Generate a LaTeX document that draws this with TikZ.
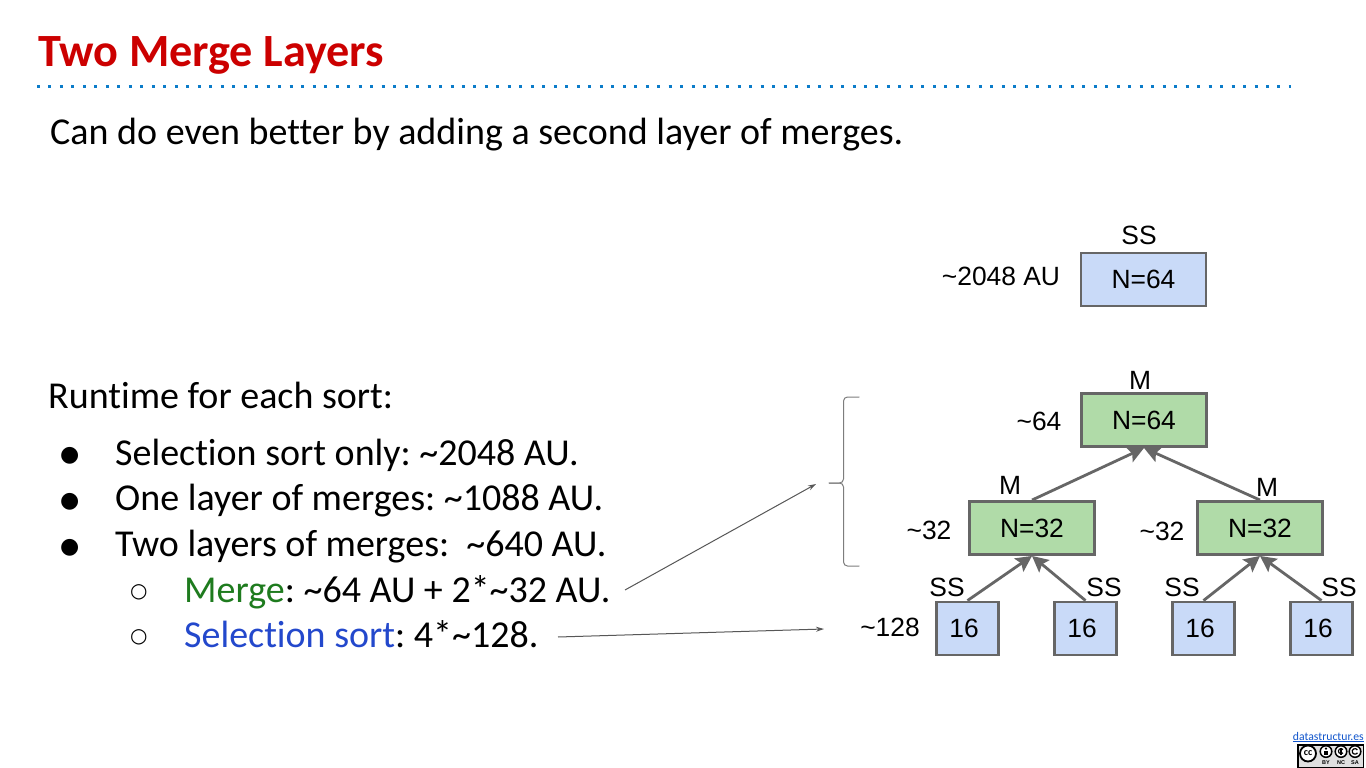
\documentclass[tikz,border=0pt]{standalone}
\usepackage{fontspec}
\setmainfont{Carlito}[Ligatures=NoCommon]
\newfontfamily\arial{Liberation Sans}
\newfontfamily\dejavu{DejaVu Sans}
\usetikzlibrary{arrows.meta}
\definecolor{titlered}{HTML}{CC0000}
\definecolor{dotblue}{HTML}{0B7CC9}
\definecolor{edgegrey}{HTML}{666666}
\definecolor{mergefill}{HTML}{B0DBA8}
\definecolor{ssfill}{HTML}{C9DAF8}
\definecolor{mergetext}{HTML}{1E7B1E}
\definecolor{sstext}{HTML}{2348CC}
\definecolor{linkblue}{HTML}{1155CC}
\tikzset{
  x=1pt,y=-1pt,
  body/.style={anchor=base west,inner sep=0pt,font=\frenchspacing\fontsize{38}{44}\selectfont,text=black},
  bigbox/.style={draw=edgegrey,line width=2.9pt,minimum width=125pt,minimum height=53pt,inner sep=0pt,font=\arial\fontsize{26.4}{30}\selectfont},
  smallbox/.style={draw=edgegrey,line width=2.9pt,fill=ssfill,minimum width=62pt,minimum height=53pt,inner sep=0pt,font=\arial\fontsize{26.4}{30}\selectfont},
  lab/.style={anchor=base,inner sep=0pt,font=\arial\fontsize{26.4}{30}\selectfont},
  treearrow/.style={draw=edgegrey,line width=2.8pt,-{Stealth[length=16pt,width=16pt,inset=3pt]}},
  thinarrow/.style={draw=edgegrey!85!black,line width=1pt,-{Stealth[length=8pt,width=5pt]}},
  badgetext/.style={anchor=center,inner sep=0pt,text=black,font=\arial\bfseries\fontsize{5.5}{6}\selectfont},
}
\begin{document}
\begin{tikzpicture}
\useasboundingbox (0,0) rectangle (1366,768);
\fill[white] (0,0) rectangle (1366,768);
% title
\node[anchor=base west,inner sep=0pt,text=titlered,font=\bfseries\fontsize{46.2}{54}\selectfont] (title) at (38,66.5) {Two Merge Layers};
\coordinate (ruleL) at (37,87);
\coordinate (ruleR) at (1291,87);
\draw[dotblue,line width=3pt,dash pattern=on 3pt off 8.486pt] (ruleL) -- (ruleR);
% text
\node[body] (intro) at (50,144) {Can do even better by adding a second layer of merges.};
\node[body] (runtime) at (48,408) {Runtime for each sort:};
\node[body,font=\dejavu\fontsize{22}{26}\selectfont] (b1) at (60,461) {●};
\node[body] (t1) at (115,465) {Selection sort only: \textasciitilde2048 AU.};
\node[body,font=\dejavu\fontsize{22}{26}\selectfont] (b2) at (60,507) {●};
\node[body] (t2) at (115,510) {One layer of merges: \textasciitilde1088 AU.};
\node[body,font=\dejavu\fontsize{22}{26}\selectfont] (b3) at (60,553) {●};
\node[body] (t3) at (115,556) {Two layers of merges:\ \ \textasciitilde640 AU.};
\node[body,font=\dejavu\fontsize{20}{24}\selectfont] (b4) at (130,597) {○};
\node[body] (t4) at (184,602) {\textcolor{mergetext}{Merge}: \textasciitilde64 AU + 2*\textasciitilde32 AU.};
\node[body,font=\dejavu\fontsize{20}{24}\selectfont] (b5) at (130,642) {○};
\node[body] (t5) at (184,647) {\textcolor{sstext}{Selection sort}: 4*\textasciitilde128.};
% top SS box
\node[bigbox,fill=ssfill] (top) at (1143.5,279.5) {N=64};
\node[lab] (topss) at (1139,244) {SS};
\node[lab] (topcost) at (1001,285) {\textasciitilde2048 AU};
% tree
\node[bigbox,fill=mergefill] (m64) at (1144,420) {N=64};
\node[bigbox,fill=mergefill] (m32l) at (1032,528) {N=32};
\node[bigbox,fill=mergefill] (m32r) at (1260,528) {N=32};
\node[smallbox] (s1) at (967.5,628.5) {16\kern7pt};
\node[smallbox] (s2) at (1085.5,628.5) {16\kern7pt};
\node[smallbox] (s3) at (1203.5,628.5) {16\kern7pt};
\node[smallbox] (s4) at (1321.5,628.5) {16\kern7pt};
\draw[treearrow] (m32l.north) -- (m64.south);
\draw[treearrow] (m32r.north) -- (m64.south);
\draw[treearrow] (s1.north) -- (m32l.south);
\draw[treearrow] (s2.north) -- (m32l.south);
\draw[treearrow] (s3.north) -- (m32r.south);
\draw[treearrow] (s4.north) -- (m32r.south);
\node[lab] (lm1) at (1140,389) {M};
\node[lab] (lm2) at (1010,494) {M};
\node[lab] (lm3) at (1267,496) {M};
\node[lab] (ls1) at (947,596) {SS};
\node[lab] (ls2) at (1104,596) {SS};
\node[lab] (ls3) at (1182,596) {SS};
\node[lab] (ls4) at (1339,596) {SS};
\node[lab] (c64) at (1039,430) {\textasciitilde64};
\node[lab] (c32l) at (929,539) {\textasciitilde32};
\node[lab] (c32r) at (1162,540) {\textasciitilde32};
\node[lab] (c128) at (890,636) {\textasciitilde128};
% brace
\coordinate (braceTop) at (859,397);
\coordinate (braceTip) at (829,483);
\coordinate (braceBot) at (859,566);
\draw[edgegrey!85,line width=1pt,line cap=round,rounded corners=4pt] (braceTop) -- (843.5,397) -- (843.5,483) -- (braceTip);
\draw[edgegrey!85,line width=1pt,line cap=round,rounded corners=4pt] (braceTip) -- (843.5,483) -- (843.5,566) -- (braceBot);
% pointers
\coordinate (p1s) at (625,590);
\coordinate (p1e) at (816,484);
\coordinate (p2s) at (558,637);
\coordinate (p2e) at (824,629);
\draw[thinarrow] (p1s) -- (p1e);
\draw[thinarrow] (p2s) -- (p2e);
% footer
\node[anchor=base east,inner sep=0pt,text=linkblue,font=\fontsize{11.7}{13}\selectfont] (link) at (1364,740) {\underline{datastructur.es}};
\fill[black] (1297,744) rectangle (1364,768);
\fill[white!88!black] (1298.5,745.5) rectangle (1362.5,766.5);
\filldraw[fill=white,draw=black,line width=1.8pt] (1308,753.5) circle[radius=8];
\node[anchor=center,inner sep=0pt,font=\bfseries\fontsize{10}{10}\selectfont] (cc) at (1308,753) {cc};
\foreach \cx in {1326,1341,1355}{
  \filldraw[fill=white,draw=black,line width=1.5pt] (\cx,751.5) circle[radius=5.8];
}
\fill[black] (1326,748.6) circle[radius=1.3];
\fill[black] (1324,750.5) rectangle (1328,755);
\draw[black,line width=1.2pt] (1343,749.5) arc[start angle=-40,end angle=-320,radius=2.6];
\draw[black,line width=1.2pt] (1341,748) -- (1341,755);
\draw[black,line width=1.2pt] (1357.4,750) arc[start angle=-30,end angle=-330,radius=2.8];
\node[badgetext] (by) at (1326,762.5) {BY};
\node[badgetext] (nc) at (1341,762.5) {NC};
\node[badgetext] (sa) at (1355,762.5) {SA};
\end{tikzpicture}
\end{document}
